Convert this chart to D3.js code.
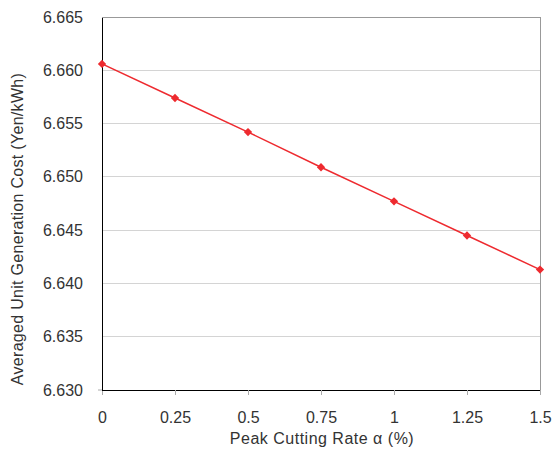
<!DOCTYPE html>
<html>
<head>
<meta charset="utf-8">
<script src="https://cdn.jsdelivr.net/npm/d3@7"></script>
<style>
  body { margin: 0; background: #fff; }
  text { font-family: "Liberation Sans", Arial, sans-serif; fill: #333; }
</style>
</head>
<body>
<div id="chart"></div>
<script>
var rates = [0, 0.25, 0.5, 0.75, 1, 1.25, 1.5];
var costs = [6.6606, 6.6574, 6.6542, 6.6509, 6.6477, 6.6445, 6.6413];
var yTicks = [6.630, 6.635, 6.640, 6.645, 6.650, 6.655, 6.660, 6.665];
var xTicks = [0, 0.25, 0.5, 0.75, 1, 1.25, 1.5];

var width = 553, height = 450;
var margin = { top: 17, right: 13, bottom: 60, left: 102 };
var red = "#ee2a2f";
var font = "Liberation Sans, Arial, sans-serif";

var svg = d3.select("#chart").append("svg")
  .attr("width", width)
  .attr("height", height);

var x = d3.scaleLinear().domain([0, 1.5]).range([margin.left, width - margin.right]);
var y = d3.scaleLinear().domain([6.630, 6.665]).range([height - margin.bottom, margin.top]);

// gridlines
svg.append("g")
  .selectAll("line")
  .data(yTicks.slice(1))
  .enter()
  .append("line")
  .attr("x1", x(0))
  .attr("x2", x(1.5))
  .attr("y1", d => y(d))
  .attr("y2", d => y(d))
  .attr("stroke", d => d === 6.665 ? "#999" : "#d4d4d4")
  .attr("stroke-width", 1)
  .attr("shape-rendering", "crispEdges");

// right border
svg.append("line")
  .attr("x1", x(1.5)).attr("x2", x(1.5))
  .attr("y1", y(6.665)).attr("y2", y(6.630))
  .attr("stroke", "#999")
  .attr("shape-rendering", "crispEdges");

// x axis
var xAxis = svg.append("g")
  .attr("transform", "translate(0," + y(6.630) + ")")
  .call(d3.axisBottom(x).tickValues(xTicks).tickSize(5).tickPadding(17)
    .tickFormat(d => String(d)));
xAxis.select(".domain").attr("stroke", "#000").attr("shape-rendering", "crispEdges");
xAxis.selectAll(".tick line").attr("stroke", "#aaa");
xAxis.selectAll("text").attr("font-size", "16px").attr("fill", "#333")
  .attr("font-family", font);

// y axis
var yAxis = svg.append("g")
  .attr("transform", "translate(" + x(0) + ",0)")
  .call(d3.axisLeft(y).tickValues(yTicks).tickSize(0).tickPadding(19)
    .tickFormat(d3.format(".3f")));
yAxis.select(".domain").attr("stroke", "#000").attr("shape-rendering", "crispEdges");
yAxis.selectAll("text").attr("font-size", "16px").attr("fill", "#333")
  .attr("font-family", font);

// small tick at bottom-left
svg.append("line")
  .attr("x1", x(0) - 4).attr("x2", x(0))
  .attr("y1", y(6.630)).attr("y2", y(6.630))
  .attr("stroke", "#aaa");

// line
var line = d3.line()
  .x((d, i) => x(rates[i]))
  .y(d => y(d));

svg.append("path")
  .datum(costs)
  .attr("d", line)
  .attr("fill", "none")
  .attr("stroke", red)
  .attr("stroke-width", 1.5);

// markers
svg.append("g")
  .selectAll("path")
  .data(costs)
  .enter()
  .append("path")
  .attr("d", d3.symbol().type(d3.symbolDiamond2).size(44))
  .attr("transform", (d, i) => "translate(" + x(rates[i]) + "," + y(d) + ")")
  .attr("fill", red);

// axis titles
svg.append("text")
  .attr("x", (x(0) + x(1.5)) / 2 + 1)
  .attr("y", 444)
  .attr("text-anchor", "middle")
  .attr("font-size", "16px")
  .attr("letter-spacing", "0.5px")
  .text("Peak Cutting Rate α (%)");

svg.append("text")
  .attr("transform", "translate(23,229) rotate(-90)")
  .attr("text-anchor", "middle")
  .attr("font-size", "16px")
  .attr("letter-spacing", "0.3px")
  .text("Averaged Unit Generation Cost (Yen/kWh)");
</script>
</body>
</html>
